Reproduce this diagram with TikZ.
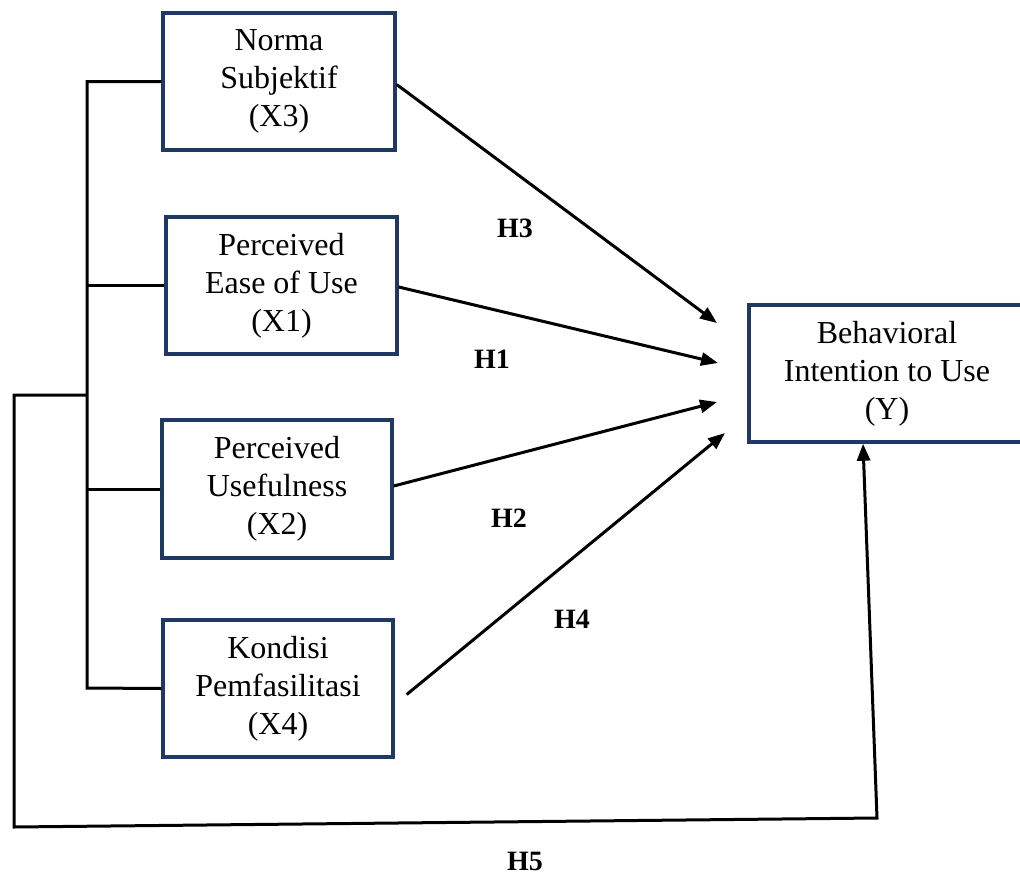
\documentclass[tikz,border=0pt]{standalone}
\usepackage{fontspec}
\setmainfont{Liberation Serif}
\usetikzlibrary{arrows.meta}
\definecolor{boxblue}{HTML}{1F3864}
\begin{document}
\begin{tikzpicture}[x=1pt,y=-1pt,
  varbox/.style={draw=boxblue,line width=3.4pt,fill=white,inner sep=0pt,align=center,
    font=\fontsize{32}{38}\selectfont},
  conn/.style={draw=black,line width=3pt},
  arr/.style={conn,-{Triangle[length=17pt,width=13pt]}},
  hlabel/.style={font=\fontsize{28}{30}\selectfont\bfseries,inner sep=0pt}]
\useasboundingbox (0,0) rectangle (1020,878);

\node[varbox,minimum width=232pt,minimum height=137pt] (x3) at (279,81.5) {Norma\\Subjektif\\(X3)};
\node[varbox,minimum width=231pt,minimum height=137pt] (x1) at (281.5,285.5) {Perceived\\Ease of Use\\(X1)};
\node[varbox,minimum width=230pt,minimum height=138pt] (x2) at (277,489) {Perceived\\Usefulness\\(X2)};
\node[varbox,minimum width=230pt,minimum height=137pt] (x4) at (278,688.5) {Kondisi\\Pemfasilitasi\\(X4)};
\node[varbox,minimum width=276pt,minimum height=137pt] (y) at (887,373.5) {Behavioral\\Intention to Use\\(Y)};

% bracket on the left
\coordinate (bt) at (87,83);
\coordinate (bb) at (87,688);
\coordinate (lj) at (87,395);
\coordinate (lc) at (14,395);
\coordinate (bl) at (14,827);
\coordinate (br) at (877,818);
\coordinate (h5x) at (863,0);
\draw[conn] (x3.west) -| (bb) -- (x4.west);
\draw[conn] (x1.west) -- (x1.west -| bt);
\draw[conn] (x2.west) -- (x2.west -| bt);
\draw[arr] (lj) -- (lc) -- (bl) -- (br) -- (y.south -| h5x);

% arrows to Y
\coordinate (t3) at (717,323);
\coordinate (t1) at (718,363);
\coordinate (t2) at (717,402);
\coordinate (t4) at (725,433);
\draw[arr] ([yshift=-3pt]x3.east) -- (t3);
\draw[arr] ([yshift=-1.5pt]x1.east) -- (t1);
\draw[arr] ([yshift=3pt]x2.east) -- (t2);
\draw[arr] ([xshift=12pt,yshift=-6pt]x4.east) -- (t4);

% labels
\node[hlabel] (h3) at (515,228) {H3};
\node[hlabel] (h1) at (492,359) {H1};
\node[hlabel] (h2) at (509,518) {H2};
\node[hlabel] (h4) at (572,619) {H4};
\node[hlabel] (h5) at (525,861) {H5};
\end{tikzpicture}
\end{document}
